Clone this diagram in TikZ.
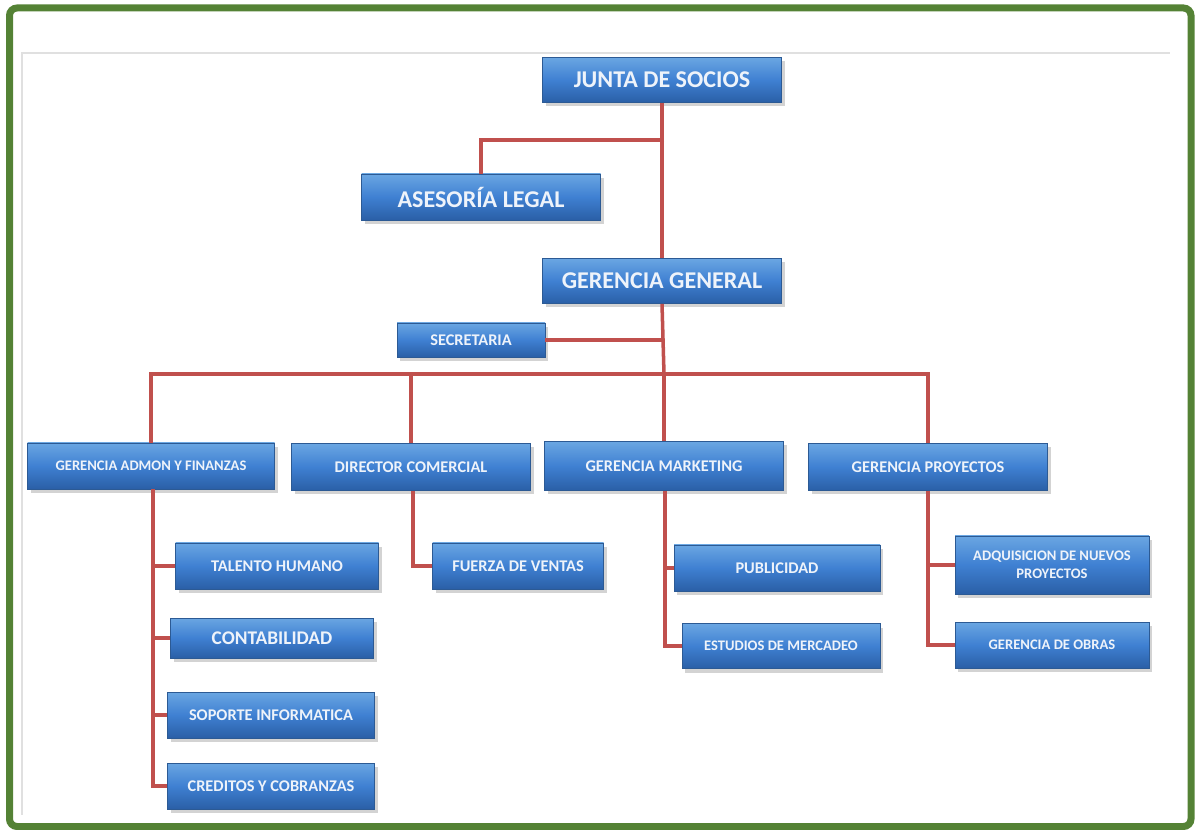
\documentclass[tikz,border=0pt]{standalone}
\usepackage{fontspec}
\setmainfont{Carlito}
\usetikzlibrary{shadows}
\definecolor{bxtop}{HTML}{6AA6E2}
\definecolor{bxmid}{HTML}{3F80D2}
\definecolor{bxbot}{HTML}{2A5FA6}
\definecolor{bxedge}{HTML}{2C5A94}
\definecolor{lnred}{HTML}{C0504D}
\definecolor{frgreen}{HTML}{548235}
\definecolor{txt}{HTML}{EEF3FA}
\tikzset{
  orgbox/.style n args={2}{draw=bxedge, line width=0.4pt, top color=bxtop, bottom color=bxbot, middle color=bxmid,
    minimum width=#1*0.2mm, minimum height=#2*0.2mm, inner sep=1pt, align=center,
    text=txt, font=\bfseries, drop shadow={shadow xshift=0.6mm, shadow yshift=-0.8mm, opacity=0.35}},
  big/.style={font=\fontsize{13.7}{15}\selectfont\bfseries},
  mid/.style={font=\fontsize{11}{12}\selectfont\bfseries},
  med/.style={font=\fontsize{9.3}{11}\selectfont\bfseries},
  sml/.style={font=\fontsize{8.3}{10.5}\selectfont\bfseries},
  conn/.style={draw=lnred, line width=2pt},
}
\begin{document}
\begin{tikzpicture}[x=0.2mm,y=-0.2mm]
\useasboundingbox (0,0) rectangle (1195,830);
% frames
\draw[frgreen, line width=7*0.2mm, rounded corners=1.5mm] (9.5,8) rectangle (1191,826.5);
\draw[black!12, line width=0.6pt] (22,815) -- (22,53) -- (1170,53);
% connectors
\coordinate (bus) at (664,374);
\coordinate (lg) at (664,140);
% nodes
\node[orgbox={239}{45}, big] (junta) at (662,80) {JUNTA DE SOCIOS};
\node[orgbox={239}{46}, big] (ases) at (481,197) {ASESORÍA LEGAL};
\node[orgbox={239}{45}, big] (gg) at (662,281) {GERENCIA GENERAL};
\node[orgbox={148}{34}, med] (sec) at (471,340) {SECRETARIA};
\node[orgbox={247}{46}, sml] (adm) at (151,466) {GERENCIA ADMON Y FINANZAS};
\node[orgbox={239}{47}, med] (dir) at (411,467) {DIRECTOR COMERCIAL};
\node[orgbox={239}{49}, med] (mkt) at (664,466) {GERENCIA MARKETING};
\node[orgbox={239}{47}, med] (pro) at (928,467) {GERENCIA PROYECTOS};
\node[orgbox={203}{46}, med] (tal) at (277,566) {TALENTO HUMANO};
\node[orgbox={203}{40}, mid] (con) at (272,638) {CONTABILIDAD};
\node[orgbox={207}{46}, med] (sop) at (271,715) {SOPORTE INFORMATICA};
\node[orgbox={207}{46}, med] (cre) at (271,786) {CREDITOS Y COBRANZAS};
\node[orgbox={171}{46}, med] (fue) at (518,566) {FUERZA DE VENTAS};
\node[orgbox={206}{46}, med] (pub) at (777,568) {PUBLICIDAD};
\node[orgbox={198}{45}, sml] (est) at (781,646) {ESTUDIOS DE MERCADEO};
\node[orgbox={194}{58}, sml] (adq) at (1052,565) {ADQUISICION DE NUEVOS\\PROYECTOS};
\node[orgbox={194}{46}, sml] (obr) at (1052,645) {GERENCIA DE OBRAS};
\draw[conn] (junta.south) -- (gg.north);
\draw[conn] (lg) -| (ases.north);
\draw[conn] (gg.south) -- (bus);
\draw[conn] (sec.east) -- (sec.east -| bus);
\draw[conn] (adm.north) |- (bus);
\draw[conn] (pro.north) |- (bus);
\draw[conn] (dir.north) -- (dir.north |- bus);
\draw[conn] (mkt.north) -- (mkt.north |- bus);
\draw[conn] ([xshift=2*0.2mm]adm.south) |- (cre.west);
\draw[conn] ([xshift=2*0.2mm]adm.south |- tal.west) -- (tal.west);
\draw[conn] ([xshift=2*0.2mm]adm.south |- con.west) -- (con.west);
\draw[conn] ([xshift=2*0.2mm]adm.south |- sop.west) -- (sop.west);
\draw[conn] ([xshift=2*0.2mm]dir.south) |- (fue.west);
\draw[conn] ([xshift=1*0.2mm]mkt.south) |- (est.west);
\draw[conn] ([xshift=1*0.2mm]mkt.south |- pub.west) -- (pub.west);
\draw[conn] (pro.south) |- (obr.west);
\draw[conn] (pro.south |- adq.west) -- (adq.west);
\end{tikzpicture}
\end{document}
